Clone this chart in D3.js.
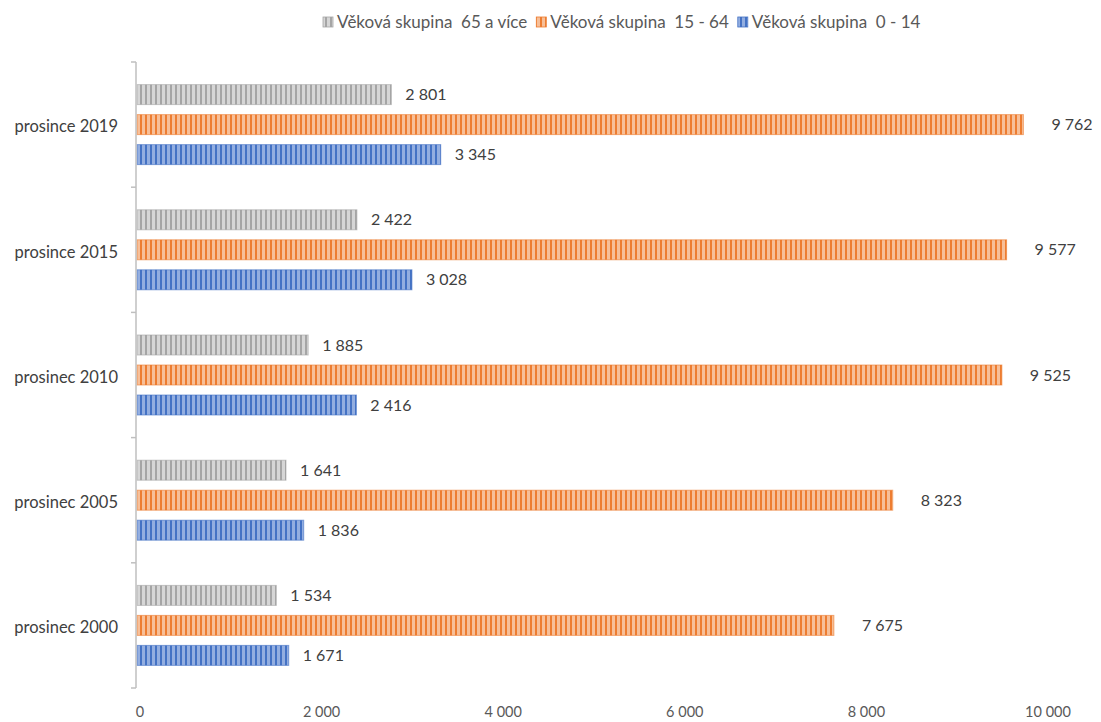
<!DOCTYPE html>
<html><head><meta charset="utf-8">
<script src="https://cdn.jsdelivr.net/npm/d3@7"></script>
<style>
body{margin:0;background:#fff;}
svg{display:block;}
text{font-family:Lato,"Liberation Sans",sans-serif;}
</style></head>
<body>
<svg id="chart" width="1101" height="722"></svg>
<script>
const categories = ["prosince 2019","prosince 2015","prosinec 2010","prosinec 2005","prosinec 2000"];
const seriesNames = ["Věková skupina  65 a více","Věková skupina  15 - 64","Věková skupina  0 - 14"];
const values65 = [2801, 2422, 1885, 1641, 1534];
const values1564 = [9762, 9577, 9525, 8323, 7675];
const values014 = [3345, 3028, 2416, 1836, 1671];
const xTicks = [0, 2000, 4000, 6000, 8000, 10000];

const seriesValues = [values65, values1564, values014];
const colors = [
  {line:"#a5a5a5", bg:"#d6d6d6"},
  {line:"#ed7d31", bg:"#f7bf98"},
  {line:"#4472c4", bg:"#93aee0"}
];
const labelGap = [14, 28, 14];

const svg = d3.select("#chart");
const locale = d3.formatLocale({decimal:",", thousands:"\u00a0", grouping:[3], currency:["",""]});
const fmt = locale.format(",d");

const x = d3.scaleLinear().domain([0, 10000]).range([137, 1045]);
const y0 = d3.scaleBand().domain(categories).range([62, 688]).padding(0);
const y1 = d3.scaleBand().domain(d3.range(3)).range([0, 80]).paddingInner(1/3).paddingOuter(0);
const groupOffset = (y0.bandwidth() - 80) / 2;

const defs = svg.append("defs");
colors.forEach((c, i) => {
  const p = defs.append("pattern").attr("id", "pat" + i)
    .attr("patternUnits", "userSpaceOnUse").attr("width", 5).attr("height", 10);
  p.append("rect").attr("width", 5).attr("height", 10).attr("fill", c.bg);
  p.append("rect").attr("x", 0).attr("width", 2).attr("height", 10).attr("fill", c.line);
});

// bars
const g = svg.append("g");
categories.forEach((cat, ci) => {
  seriesValues.forEach((vals, si) => {
    const v = vals[ci];
    const yy = y0(cat) + groupOffset + y1(si);
    g.append("rect")
      .attr("x", x(0)).attr("y", yy)
      .attr("width", x(v) - x(0)).attr("height", y1.bandwidth())
      .attr("fill", "url(#pat" + si + ")")
      .attr("stroke", colors[si].line).attr("stroke-opacity", 0.6).attr("stroke-width", 1);
    g.append("text")
      .attr("x", x(v) + labelGap[si]).attr("y", yy + y1.bandwidth() / 2)
      .attr("dy", "0.35em").attr("font-size", 16).attr("fill", "#404040")
      .text(fmt(v));
  });
});

// y axis
const yAxis = svg.append("g");
yAxis.append("line").attr("x1", 136).attr("x2", 136).attr("y1", 62).attr("y2", 688)
  .attr("stroke", "#bfbfbf").attr("stroke-width", 1.5);
const bounds = categories.map(c => y0(c)).concat([y0.range()[1]]);
bounds.forEach(b => {
  yAxis.append("line").attr("x1", 131).attr("x2", 136).attr("y1", b).attr("y2", b)
    .attr("stroke", "#bfbfbf").attr("stroke-width", 1.5);
});
categories.forEach(c => {
  yAxis.append("text").attr("x", 118).attr("y", y0(c) + y0.bandwidth() / 2 + 2)
    .attr("dy", "0.35em").attr("text-anchor", "end").attr("font-size", 16.5)
    .attr("fill", "#404040").text(c);
});

// x tick labels
const xAxis = svg.append("g");
xTicks.forEach(t => {
  xAxis.append("text").attr("x", x(t) + 3).attr("y", 712).attr("dy", "0.35em")
    .attr("text-anchor", "middle").attr("font-size", 14.5).attr("fill", "#595959")
    .text(fmt(t));
});

// legend
const legend = svg.append("g");
let lx = 323;
seriesNames.forEach((name, i) => {
  legend.append("rect").attr("x", lx).attr("y", 17).attr("width", 10).attr("height", 10)
    .attr("fill", "url(#pat" + i + ")").attr("stroke", colors[i].line).attr("stroke-width", 0.8);
  const t = legend.append("text").attr("x", lx + 14).attr("y", 22).attr("dy", "0.35em")
    .attr("font-size", 17).attr("fill", "#595959").style("white-space", "pre").text(name);
  lx += 14 + t.node().getComputedTextLength() + 9;
});
</script>
</body></html>
